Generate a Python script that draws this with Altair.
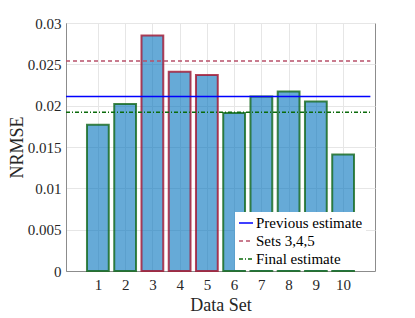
import altair as alt
import pandas as pd

# ---- data ----
data_sets = [1, 2, 3, 4, 5, 6, 7, 8, 9, 10]
nrmse = [0.0177, 0.0202, 0.0285, 0.0241, 0.0237, 0.0191, 0.0211, 0.0217, 0.0205, 0.0141]
edge_group = ["final", "final", "sets345", "sets345", "sets345",
              "final", "final", "final", "final", "final"]

line_names = ["Previous estimate", "Sets 3,4,5", "Final estimate"]
line_values = [0.0211, 0.0254, 0.0192]
line_start = [-0.17, -0.17, -0.17]
line_end = [11.0, 11.0, 11.0]

x_domain = [-0.17, 11.17]
y_domain = [0, 0.03]
y_ticks = [0, 0.005, 0.01, 0.015, 0.02, 0.025, 0.03]

FONT = "Liberation Serif"

bars_df = pd.DataFrame({"set": data_sets, "nrmse": nrmse, "group": edge_group})
lines_df = pd.DataFrame({"series": line_names, "value": line_values,
                         "x0": line_start, "x1": line_end})

x_scale = alt.Scale(domain=x_domain, nice=False, zero=False)
y_scale = alt.Scale(domain=y_domain, nice=False)

x_axis = alt.Axis(values=data_sets, title="Data Set", format="d",
                  grid=True, ticks=False, labelPadding=6, titlePadding=4,
                  labelOverlap=False, labelFlush=False)
y_axis = alt.Axis(values=y_ticks, title="NRMSE", format="~g",
                  grid=True, ticks=False, labelPadding=5, titlePadding=1,
                  labelOverlap=False, labelFlush=False)

bars = alt.Chart(bars_df).transform_calculate(
    left="datum.set - 0.4", right="datum.set + 0.4"
).mark_bar(fill="#0072bd", fillOpacity=0.6, strokeWidth=2, strokeOpacity=0.8).encode(
    x=alt.X("left:Q", scale=x_scale, axis=x_axis),
    x2="right:Q",
    y=alt.Y("nrmse:Q", scale=y_scale, axis=y_axis),
    y2=alt.datum(0),
    stroke=alt.Stroke("group:N",
                      scale=alt.Scale(domain=["final", "sets345"],
                                      range=["#11661a", "#a2142f"]),
                      legend=None),
)

leg = alt.Legend(title=None, orient="none", legendX=169, legendY=189,
                 symbolType="stroke", symbolSize=196, symbolStrokeWidth=1.5,
                 labelFont=FONT, labelFontSize=15, labelColor="#000000",
                 labelOffset=2, padding=3, rowPadding=2, fillColor="white",
                 labelLimit=300)

rules = alt.Chart(lines_df).mark_rule(strokeWidth=1.5).encode(
    x=alt.X("x0:Q", scale=x_scale, axis=x_axis),
    x2="x1:Q",
    y=alt.Y("value:Q", scale=y_scale, axis=y_axis),
    color=alt.Color("series:N", sort=line_names,
                    scale=alt.Scale(domain=line_names,
                                    range=["#0000ff", "#b8506a", "#0b6b0b"]),
                    legend=leg),
    strokeDash=alt.StrokeDash("series:N", sort=line_names,
                              scale=alt.Scale(domain=line_names,
                                              range=[[1, 0], [4, 3], [4, 2, 1, 2]]),
                              legend=leg),
)

chart = alt.layer(bars, rules).properties(
    width=309, height=248,
    autosize=alt.AutoSizeParams(type="none"),
    padding={"left": 58, "top": 15, "right": 10, "bottom": 47},
).configure_view(
    stroke="#8c8c8c", strokeWidth=1
).configure_axis(
    domainColor="#8c8c8c", gridColor="#e6e6e6", gridWidth=1,
    labelFont=FONT, labelFontSize=15, labelColor="#262626",
    titleFont=FONT, titleFontSize=18, titleColor="#262626", titleFontWeight="normal",
)

chart.save("out.html", embed_options={"renderer": "svg", "actions": False})
